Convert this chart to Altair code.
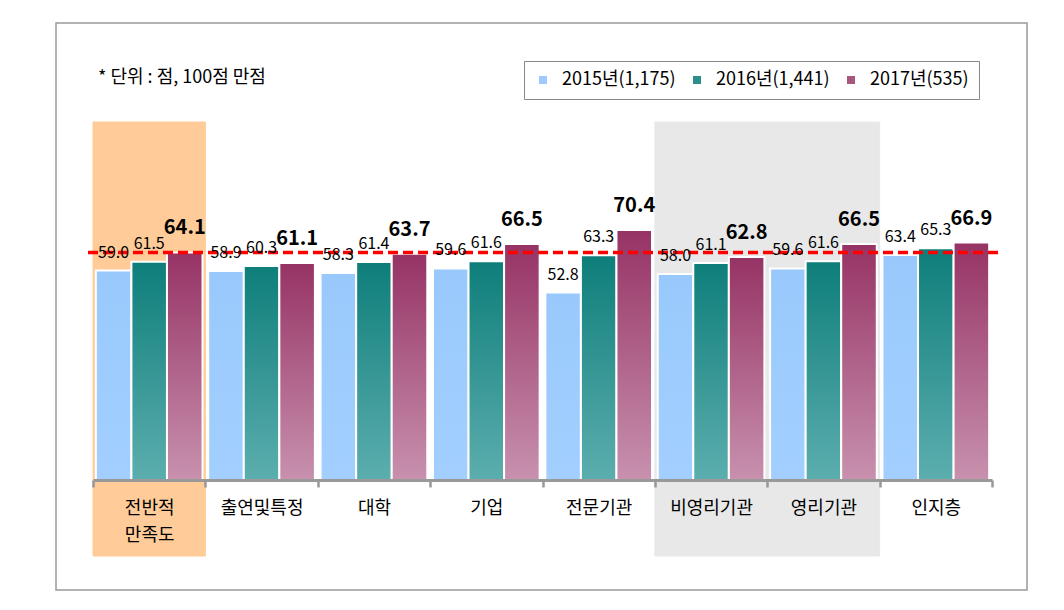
import altair as alt
import pandas as pd

FONT = "Noto Sans CJK KR"

categories = ["전반적 만족도", "출연및특정", "대학", "기업", "전문기관", "비영리기관", "영리기관", "인지층"]
series = ["2015년(1,175)", "2016년(1,441)", "2017년(535)"]
v2015 = [59.0, 58.9, 58.3, 59.6, 52.8, 58.0, 59.6, 63.4]
v2016 = [61.5, 60.3, 61.4, 61.6, 63.3, 61.1, 61.6, 65.3]
v2017 = [64.1, 61.1, 63.7, 66.5, 70.4, 62.8, 66.5, 66.9]
orange_cats = ["전반적 만족도"]
gray_cats = ["비영리기관", "영리기관"]
note = "* 단위 : 점, 100점 만점"

gradients = [("#99C9FC", "#A2CFFF"), ("#0E7E7A", "#5CAEAE"), ("#963365", "#C891AE")]
legend_colors = ["#9DCBFD", "#2E8E8B", "#A9567F"]

rows = []
for s, vals in zip(series, [v2015, v2016, v2017]):
    for c, v in zip(categories, vals):
        rows.append({"cat": c, "series": s, "value": v})
df = pd.DataFrame(rows)

X = alt.X("cat:N", sort=categories,
          scale=alt.Scale(domain=categories, paddingInner=0, paddingOuter=0),
          axis=alt.Axis(title=None, domainColor="#999999", domainWidth=3,
                        tickColor="#999999", tickWidth=2.5, tickSize=7, tickBand="extent",
                        labelFont=FONT, labelFontSize=18, labelColor="black",
                        labelPadding=12, labelAngle=0, labelLineHeight=27,
                        labelExpr="split(datum.label, ' ')"))
XO = alt.XOffset("series:N", scale=alt.Scale(domain=series, paddingInner=0, paddingOuter=0.08))
Y = alt.Y("value:Q", scale=alt.Scale(domain=[0, 100]), axis=None)

one = pd.DataFrame({"a": [0]})

border = alt.Chart(one).mark_rect(fillOpacity=0, stroke="#999999", strokeWidth=1.5).encode(
    x=alt.value(-37), x2=alt.value(934), y=alt.value(-102), y2=alt.value(465))

bg_orange = alt.Chart(pd.DataFrame({"cat": orange_cats})).mark_rect(
    color="#FFCC99", stroke="#FFCC99", strokeWidth=1).encode(
    x=X, y=alt.value(-3), y2=alt.value(431))
bg_gray = alt.Chart(pd.DataFrame({"cat": gray_cats})).mark_rect(
    color="#E8E8E8", stroke="#E8E8E8", strokeWidth=1).encode(
    x=X, y=alt.value(-3), y2=alt.value(431))

bars = []
for s, (c1, c2) in zip(series, gradients):
    g = alt.Gradient(gradient="linear",
                     stops=[alt.GradientStop(color=c1, offset=0), alt.GradientStop(color=c2, offset=1)],
                     x1=0, x2=0, y1=0, y2=1)
    bars.append(alt.Chart(df[df.series == s]).mark_bar(color=g, stroke="white", strokeWidth=2).encode(
        x=X, xOffset=XO, y=Y))

ref = alt.Chart(pd.DataFrame({"ref": [v2017[0]]})).mark_rule(
    color="#FF0000", strokeDash=[10, 5], strokeWidth=3.5).encode(
    y=alt.Y("ref:Q", axis=None), x=alt.value(-5), x2=alt.value(908))

lab_reg = alt.Chart(df[df.series != series[2]]).mark_text(
    font=FONT, fontSize=16, baseline="alphabetic", dy=-13, color="black").encode(
    x=X, xOffset=XO, y=Y, text=alt.Text("value:Q", format=".1f"))
lab_bold = alt.Chart(df[df.series == series[2]]).mark_text(
    font=FONT, fontSize=20, fontWeight="bold", baseline="alphabetic", dy=-18, color="black").encode(
    x=X, xOffset=XO, y=Y, text=alt.Text("value:Q", format=".1f"))

note_layer = alt.Chart(pd.DataFrame({"t": [note]})).mark_text(
    align="left", baseline="middle", font=FONT, fontSize=18, color="black").encode(
    text="t:N", x=alt.value(5), y=alt.value(-47))

legend_layer = alt.Chart(pd.DataFrame({"series": series})).mark_square(opacity=0).encode(
    color=alt.Color("series:N", scale=alt.Scale(domain=series, range=legend_colors),
                    legend=alt.Legend(title=None, orient="none", legendX=431, legendY=-64,
                                      direction="horizontal", symbolType="square", symbolSize=64,
                                      symbolOpacity=1, symbolStrokeWidth=0,
                                      labelFont=FONT, labelFontSize=18, labelColor="black",
                                      labelOffset=10, columnPadding=12, padding=10,
                                      strokeColor="#888888", fillColor="white", labelLimit=300)))

chart = alt.layer(border, bg_orange, bg_gray, *bars, ref, lab_reg, lab_bold, note_layer, legend_layer).properties(
    width=899, height=355,
    padding={"left": 93, "top": 125, "right": 72, "bottom": 130},
    autosize=alt.AutoSizeParams(type="none"),
    background="white",
).configure_view(stroke=None)

chart.save("out.html", embed_options={"renderer": "svg", "actions": False})
